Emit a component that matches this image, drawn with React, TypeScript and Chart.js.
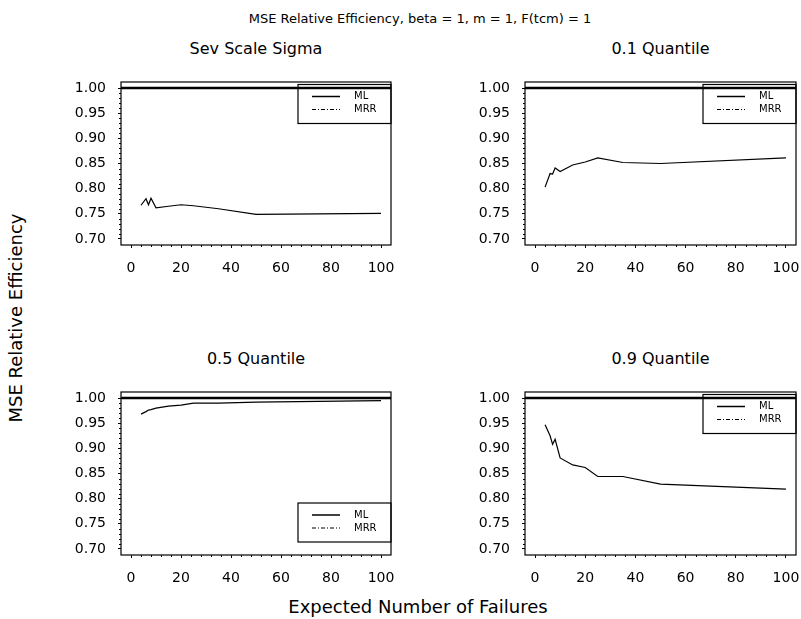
import React, { useEffect, useRef } from "react";
import { Chart, registerables } from "chart.js";

Chart.register(...registerables);

// ---------- data ----------
const failures = [4, 6, 7, 8, 10, 15, 20, 25, 35, 50, 100];
const sevScaleSigma = [0.767, 0.78, 0.768, 0.781, 0.762, 0.765, 0.768, 0.766, 0.76, 0.749, 0.751];
const quantile01 = [0.803, 0.83, 0.829, 0.841, 0.834, 0.847, 0.853, 0.861, 0.852, 0.85, 0.861];
const quantile05 = [0.968, 0.973, 0.976, 0.977, 0.98, 0.984, 0.986, 0.99, 0.99, 0.992, 0.995];
const quantile09 = [0.947, 0.925, 0.908, 0.918, 0.881, 0.867, 0.862, 0.844, 0.844, 0.829, 0.819];
const mlLevel = 1.0;

const xTicks = [0, 20, 40, 60, 80, 100];
const yTicks = [0.7, 0.75, 0.8, 0.85, 0.9, 0.95, 1.0];
const xRange = [-4, 104];
const yRange = [0.688, 1.012];
const xMinorStep = 4;
const yMinorStep = 0.01;

const mainTitle = "MSE Relative Efficiency, beta = 1, m = 1, F(tcm) = 1";
const panelTitles = ["Sev Scale Sigma", "0.1 Quantile", "0.5 Quantile", "0.9 Quantile"];
const xAxisTitle = "Expected Number of Failures";
const yAxisTitle = "MSE Relative Efficiency";
const legendLabels = ["ML", "MRR"];

const FONT = "'DejaVu Sans', sans-serif";

// ---------- plugin: frame, minor ticks, legend ----------
const framePlugin = {
  id: "frame",
  afterDraw(chart: any, _args: any, opts: any) {
    const { ctx, chartArea: a, scales } = chart;
    ctx.save();
    ctx.strokeStyle = "#000";
    ctx.lineWidth = 1.2;
    ctx.strokeRect(a.left, a.top, a.right - a.left, a.bottom - a.top);

    // minor ticks
    ctx.lineWidth = 1;
    ctx.beginPath();
    const xs = scales.x;
    const ys = scales.y;
    for (let v = xTicks[0]; v <= xTicks[xTicks.length - 1] + 1e-9; v += xMinorStep) {
      if (xTicks.some((t) => Math.abs(t - v) < 1e-9)) continue;
      const px = Math.round(xs.getPixelForValue(v)) + 0.5;
      ctx.moveTo(px, a.bottom);
      ctx.lineTo(px, a.bottom + 2);
    }
    const n = Math.round((yTicks[yTicks.length - 1] - yTicks[0]) / yMinorStep);
    for (let i = 0; i <= n; i++) {
      const v = yTicks[0] + i * yMinorStep;
      if (yTicks.some((t) => Math.abs(t - v) < 1e-6)) continue;
      const py = Math.round(ys.getPixelForValue(v)) + 0.5;
      ctx.moveTo(a.left, py);
      ctx.lineTo(a.left - 2, py);
    }
    ctx.stroke();

    // legend
    const lw = 93;
    const lh = 39;
    const lx = a.right - lw;
    const ly = opts.legendAt === "top" ? a.top + 2.5 : a.bottom - 13 - lh;
    ctx.lineWidth = 1.2;
    ctx.strokeRect(lx, ly, lw, lh);
    const rows = [ly + 12, ly + 25];
    ctx.lineWidth = 1.5;
    ctx.setLineDash([]);
    ctx.beginPath();
    ctx.moveTo(lx + 14, rows[0]);
    ctx.lineTo(lx + 42, rows[0]);
    ctx.stroke();
    ctx.lineWidth = 1;
    ctx.setLineDash([4, 2, 1, 2]);
    ctx.beginPath();
    ctx.moveTo(lx + 14, rows[1]);
    ctx.lineTo(lx + 42, rows[1]);
    ctx.stroke();
    ctx.setLineDash([]);
    ctx.fillStyle = "#000";
    ctx.font = `10px ${FONT}`;
    ctx.textBaseline = "middle";
    ctx.textAlign = "left";
    ctx.fillText(legendLabels[0], lx + 56, rows[0]);
    ctx.fillText(legendLabels[1], lx + 56, rows[1]);
    ctx.restore();
  },
};

type PanelProps = {
  values: number[];
  legendAt: "top" | "bottom";
  left: number;
  top: number;
  width: number;
  height: number;
  yAxisWidth: number;
  padRight: number;
};

function Panel({ values, legendAt, left, top, width, height, yAxisWidth, padRight }: PanelProps) {
  const ref = useRef<HTMLCanvasElement>(null);
  useEffect(() => {
    const chart = new Chart(ref.current as HTMLCanvasElement, {
      type: "line",
      data: {
        datasets: [
          {
            data: failures.map((x, i) => ({ x, y: values[i] })),
            borderColor: "#000",
            borderWidth: 1.2,
            pointRadius: 0,
            fill: false,
            tension: 0,
          },
          {
            data: xRange.map((x) => ({ x, y: mlLevel })),
            borderColor: "#000",
            borderWidth: 2.6,
            pointRadius: 0,
            fill: false,
          },
        ],
      },
      options: {
        animation: false,
        responsive: false,
        devicePixelRatio: 1,
        events: [],
        layout: { padding: { top: 22, right: padRight, left: 0, bottom: 0 } },
        plugins: {
          legend: { display: false },
          tooltip: { enabled: false },
          frame: { legendAt },
        } as any,
        scales: {
          x: {
            type: "linear",
            min: xRange[0],
            max: xRange[1],
            afterBuildTicks: (s: any) => {
              s.ticks = xTicks.map((v) => ({ value: v }));
            },
            afterFit: (s: any) => {
              s.height = 55;
              s.paddingLeft = 0;
              s.paddingRight = 0;
            },
            grid: { drawOnChartArea: false, drawTicks: true, tickLength: 3, color: "#000", lineWidth: 1 },
            border: { display: false },
            ticks: {
              color: "#000",
              font: { family: FONT, size: 14 },
              padding: 12,
              maxRotation: 0,
              autoSkip: false,
              callback: (v: any) => String(v),
            },
          },
          y: {
            type: "linear",
            min: yRange[0],
            max: yRange[1],
            afterBuildTicks: (s: any) => {
              s.ticks = yTicks.map((v) => ({ value: v }));
            },
            afterFit: (s: any) => {
              s.width = yAxisWidth;
              s.paddingTop = 0;
              s.paddingBottom = 0;
            },
            grid: { drawOnChartArea: false, drawTicks: true, tickLength: 3, color: "#000", lineWidth: 1 },
            border: { display: false },
            ticks: {
              color: "#000",
              font: { family: FONT, size: 14 },
              padding: 12,
              autoSkip: false,
              callback: (v: any) => Number(v).toFixed(2),
            },
          },
        },
      } as any,
      plugins: [framePlugin],
    });
    return () => chart.destroy();
  }, []);
  return (
    <canvas
      ref={ref}
      width={width}
      height={height}
      style={{ position: "absolute", left, top, width, height }}
    />
  );
}

const textBase: React.CSSProperties = {
  position: "absolute",
  fontFamily: FONT,
  color: "#000",
  textAlign: "center",
  whiteSpace: "nowrap",
};

function Label({ text, cx, cy, size, rotate }: { text: string; cx: number; cy: number; size: number; rotate?: boolean }) {
  const w = 600;
  return (
    <div
      style={{
        ...textBase,
        left: cx - w / 2,
        top: cy - size / 2,
        width: w,
        height: size,
        lineHeight: `${size}px`,
        fontSize: size,
        transform: rotate ? "rotate(-90deg)" : undefined,
        transformOrigin: "center",
      }}
    >
      {text}
    </div>
  );
}

export default function App() {
  return (
    <div style={{ position: "absolute", left: 0, top: 0, width: 801, height: 619, background: "#fff", overflow: "hidden" }}>
      <Label text={mainTitle} cx={420} cy={18.5} size={13} />
      <Label text={panelTitles[0]} cx={256} cy={48.5} size={16} />
      <Label text={panelTitles[1]} cx={660.5} cy={48.5} size={16} />
      <Label text={panelTitles[2]} cx={256} cy={358.5} size={16} />
      <Label text={panelTitles[3]} cx={660.5} cy={358.5} size={16} />
      <Label text={xAxisTitle} cx={418} cy={607} size={18} />
      <Label text={yAxisTitle} cx={16} cy={318} size={18} rotate />
      <Panel values={sevScaleSigma} legendAt="top" left={0} top={60} width={420} height={240} yAxisWidth={121} padRight={29} />
      <Panel values={quantile01} legendAt="top" left={400} top={60} width={401} height={240} yAxisWidth={125} padRight={5} />
      <Panel values={quantile05} legendAt="bottom" left={0} top={370} width={420} height={240} yAxisWidth={121} padRight={29} />
      <Panel values={quantile09} legendAt="top" left={400} top={370} width={401} height={240} yAxisWidth={125} padRight={5} />
    </div>
  );
}
